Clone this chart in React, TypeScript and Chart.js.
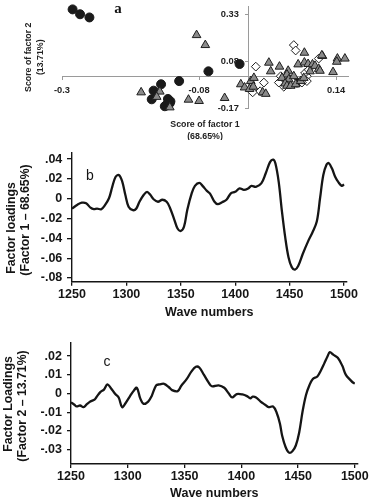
import React, { useEffect, useRef } from "react";
import { Chart, registerables } from "chart.js";

Chart.register(...registerables);

const SANS = "'Liberation Sans', Arial, Helvetica, sans-serif";
const SERIF = "'Liberation Serif', 'Times New Roman', serif";
const INK = "#151515";

// ---------- Panel a: factor scores ----------
const CIRCLE_X = [-0.283, -0.271, -0.256, -0.015, -0.065, -0.112, -0.141, -0.153, -0.156, -0.130, -0.126, -0.133, -0.135, -0.127, 0.077];
const CIRCLE_Y = [0.356, 0.330, 0.313, 0.065, 0.026, -0.026, -0.043, -0.077, -0.123, -0.121, -0.134, -0.155, -0.160, -0.144, -0.034];

const TRI_X = [
  -0.084, -0.070, -0.173, -0.143, -0.148, -0.127, -0.097, -0.080, -0.039,
  0.089, 0.118, 0.142, 0.154, 0.141, 0.032, 0.049, 0.079, 0.089, 0.095, 0.102, 0.106, 0.112, 0.114,
  0.135, 0.035, 0.063, 0.061, 0.053, 0.064, 0.072, 0.058, 0.061, 0.067, 0.075, 0.083, 0.088,
  0.003, 0.008, -0.013, -0.007, 0.001, 0.007, 0.022, 0.027, 0.098, 0.117,
];
const TRI_Y = [
  0.219, 0.166, -0.086, -0.082, -0.110, -0.166, -0.125, -0.132, -0.116,
  0.125, 0.108, 0.094, 0.094, 0.077, 0.072, 0.051, 0.063, 0.073, 0.065, 0.063, 0.055, 0.039, 0.029,
  0.022, 0.026, 0.029, 0.009, -0.009, -0.017, 0.000, -0.039, -0.051, -0.051, -0.043, -0.026, -0.009,
  -0.026, -0.009, -0.043, -0.060, -0.068, -0.056, -0.086, -0.094, 0.026, 0.111,
];

const DIA_X = [0.072, 0.075, 0.011, 0.024, 0.018, 0.006, 0.051, 0.048, 0.061, 0.069, 0.093, 0.093, 0.090, 0.112, 0.096, 0.056, 0.085];
const DIA_Y = [0.166, 0.137, 0.051, -0.034, -0.080, -0.086, 0.000, -0.034, -0.026, -0.026, 0.000, -0.026, 0.017, 0.094, 0.034, -0.056, -0.034];

const A_X_TICKS = [-0.3, -0.08, 0.14];
const A_X_LABELS = ["-0.3", "-0.08", "0.14"];
const A_Y_TICKS = [0.33, 0.08, -0.17];
const A_Y_LABELS = ["0.33", "0.08", "-0.17"];

// ---------- Panel b: factor 1 loadings ----------
const B_WAVE = [
  1250, 1255, 1259, 1263, 1267, 1270, 1273, 1277, 1280, 1284, 1287, 1290, 1293, 1296, 1299, 1302, 1306, 1309,
  1312, 1316, 1319, 1322, 1325, 1329, 1333, 1337, 1340, 1344, 1347, 1350, 1353, 1356, 1360, 1363, 1367, 1370,
  1374, 1377, 1381, 1384, 1388, 1392, 1396, 1400, 1404, 1408, 1412, 1415, 1419, 1424, 1428, 1432, 1435, 1437,
  1440, 1443, 1446, 1449, 1452, 1455, 1458, 1462, 1467, 1471, 1475, 1478, 1481, 1484, 1486, 1489, 1492, 1495,
  1498, 1500,
];
const B_LOAD = [
  -0.010, -0.006, -0.004, -0.0045, -0.009, -0.0105, -0.010, -0.0105, -0.007, 0.0005, 0.012, 0.022, 0.024, 0.018,
  0.004, -0.008, -0.0115, -0.010, -0.003, 0.004, 0.007, 0.004, -0.0005, -0.003, -0.001, -0.003, -0.009, -0.021,
  -0.030, -0.0325, -0.028, -0.011, 0.0055, 0.013, 0.016, 0.013, 0.008, 0.005, -0.003, -0.0055, -0.0035, -0.001,
  0.0055, 0.007, 0.0105, 0.009, 0.0105, 0.013, 0.012, 0.0155, 0.0255, 0.037, 0.0395, 0.0355, 0.017, -0.013,
  -0.039, -0.059, -0.069, -0.0715, -0.0675, -0.056, -0.043, -0.034, -0.023, 0.0005, 0.024, 0.0345, 0.036, 0.0305,
  0.022, 0.0165, 0.013, 0.0145,
];
const B_X_TICKS = [1250, 1300, 1350, 1400, 1450, 1500];
const B_Y_TICKS = [0.04, 0.02, 0, -0.02, -0.04, -0.06, -0.08];
const B_Y_LABELS = [".04", ".02", "0", "-.02", "-.04", "-.06", "-.08"];

// ---------- Panel c: factor 2 loadings ----------
const C_WAVE = [
  1250, 1253, 1255, 1258, 1261, 1264, 1267, 1271, 1273, 1276, 1279, 1282, 1285, 1289, 1292, 1295, 1298, 1302,
  1305, 1308, 1311, 1314, 1318, 1321, 1325, 1328, 1332, 1336, 1339, 1344, 1347, 1352, 1356, 1360, 1363, 1367,
  1371, 1374, 1380, 1385, 1389, 1392, 1396, 1401, 1405, 1408, 1410, 1413, 1417, 1421, 1424, 1428, 1431, 1434,
  1436, 1439, 1442, 1445, 1448, 1451, 1454, 1457, 1460, 1463, 1467, 1470, 1473, 1476, 1478, 1481, 1485, 1489,
  1492, 1496, 1499, 1500,
];
const C_LOAD = [
  -0.0047, -0.006, -0.0069, -0.0064, -0.0073, -0.0057, -0.0043, -0.0031, -0.0014, 0.0009, 0.0021, 0.0049, 0.003,
  -0.0003, -0.0021, -0.0073, -0.0052, -0.0014, 0.0013, 0.0031, -0.0026, -0.0055, -0.0043, -0.0014, 0.0044, 0.0049,
  0.0052, 0.0035, 0.0018, 0.0013, 0.004, 0.0078, 0.0117, 0.0143, 0.0139, 0.0101, 0.0061, 0.0039, 0.0044, 0.0031,
  0.0, -0.0021, -0.0003, -0.0005, -0.0014, -0.0026, -0.0017, -0.0021, -0.0043, -0.006, -0.0073, -0.0069, -0.010,
  -0.016, -0.0226, -0.0286, -0.0316, -0.0309, -0.0278, -0.0208, -0.0095, -0.0008, 0.0044, 0.0078, 0.0091, 0.0122,
  0.016, 0.020, 0.0221, 0.0208, 0.0191, 0.0148, 0.0101, 0.0073, 0.0056, 0.0056,
];
const C_X_TICKS = [1250, 1300, 1350, 1400, 1450, 1500];
const C_Y_TICKS = [0.02, 0.01, 0, -0.01, -0.02, -0.03];
const C_Y_LABELS = [".02", ".01", "0", "-.01", "-.02", "-.03"];

const pts = (xs: number[], ys: number[]) => xs.map((x, i) => ({ x, y: ys[i] }));

function configA(): any {
  const axisGray = "#9a9a9a";
  const textPlugin = {
    id: "panelAText",
    beforeDatasetsDraw(chart: any) {
      const { ctx, chartArea, scales } = chart;
      const xs = scales.x;
      const ys = scales.y;
      const x0 = xs.getPixelForValue(0);
      const y0 = ys.getPixelForValue(0);
      ctx.save();
      ctx.fillStyle = "#222";
      ctx.font = `bold 9.3px ${SANS}`;
      ctx.textBaseline = "middle";
      ctx.textAlign = "center";
      A_X_TICKS.forEach((v, i) => ctx.fillText(A_X_LABELS[i], xs.getPixelForValue(v), y0 + 14));
      ctx.textAlign = "right";
      A_Y_TICKS.forEach((v, i) => ctx.fillText(A_Y_LABELS[i], x0 - 10, ys.getPixelForValue(v)));
      const cx = (chartArea.left + chartArea.right) / 2;
      const cy = (chartArea.top + chartArea.bottom) / 2;
      ctx.font = `bold 8.8px ${SANS}`;
      ctx.textAlign = "center";
      ctx.fillText("Score of factor 1", cx, 125);
      ctx.fillText("(68.65%)", cx, 137);
      ctx.save();
      ctx.translate(29, cy);
      ctx.rotate(-Math.PI / 2);
      ctx.fillText("Score of factor 2", 0, 0);
      ctx.fillText("(13.71%)", 0, 12);
      ctx.restore();
      ctx.font = `bold 15px ${SERIF}`;
      ctx.fillStyle = "#111";
      ctx.fillText("a", 118, 9);
      ctx.restore();
    },
  };
  return {
    type: "scatter",
    data: {
      datasets: [
        {
          data: pts(TRI_X, TRI_Y),
          pointStyle: "triangle",
          pointRadius: 5,
          backgroundColor: "#8a8a8a",
          borderColor: "#1e1e1e",
          borderWidth: 1,
          clip: false,
        },
        {
          data: pts(DIA_X, DIA_Y),
          pointStyle: "rectRot",
          pointRadius: 4.4,
          backgroundColor: "#ffffff",
          borderColor: "#1e1e1e",
          borderWidth: 1,
          clip: false,
        },
        {
          data: pts(CIRCLE_X, CIRCLE_Y),
          pointStyle: "circle",
          pointRadius: 4.5,
          backgroundColor: "#1a1a1a",
          borderColor: "#1a1a1a",
          borderWidth: 1,
          clip: false,
        },
      ],
    },
    options: {
      animation: false,
      responsive: false,
      events: [],
      layout: { padding: { left: 62, right: 22, top: 2, bottom: 31.5 } },
      plugins: { legend: { display: false }, tooltip: { enabled: false } },
      scales: {
        x: {
          type: "linear",
          min: -0.3,
          max: 0.159,
          position: { y: 0 },
          afterBuildTicks: (s: any) => {
            s.ticks = A_X_TICKS.map((value) => ({ value }));
          },
          afterFit: (s: any) => {
            s.height = 0;
          },
          ticks: { display: false },
          grid: { drawOnChartArea: false, drawTicks: true, tickLength: 3, color: axisGray, lineWidth: 1 },
          border: { color: axisGray, width: 1 },
        },
        y: {
          type: "linear",
          min: -0.172,
          max: 0.374,
          position: { x: 0 },
          afterBuildTicks: (s: any) => {
            s.ticks = A_Y_TICKS.map((value) => ({ value }));
          },
          afterFit: (s: any) => {
            s.width = 0;
          },
          ticks: { display: false },
          grid: { drawOnChartArea: false, drawTicks: true, tickLength: 3, color: axisGray, lineWidth: 1 },
          border: { color: axisGray, width: 1 },
        },
      },
    },
    plugins: [textPlugin],
  };
}

function lineConfig(p: {
  wave: number[];
  load: number[];
  xTicks: number[];
  yTicks: number[];
  yLabels: string[];
  yMin: number;
  yMax: number;
  padding: any;
  yWidth: number;
  xHeight: number;
  yTickLen: number;
  yTickPad: number;
  xTickPad: number;
  yTitle: string[];
  yTitlePos: number[][];
  xTitlePad: number;
  xTitleLH: number;
  letter: string;
  letterX: number;
  letterY: number;
}): any {
  const textPlugin = {
    id: "panelText",
    afterDraw(chart: any) {
      const { ctx } = chart;
      ctx.save();
      ctx.fillStyle = INK;
      ctx.textAlign = "center";
      ctx.textBaseline = "middle";
      ctx.font = `14px ${SANS}`;
      ctx.fillText(p.letter, p.letterX, p.letterY);
      ctx.font = `bold 12.3px ${SANS}`;
      p.yTitle.forEach((line, i) => {
        ctx.save();
        ctx.translate(p.yTitlePos[i][0], p.yTitlePos[i][1]);
        ctx.rotate(-Math.PI / 2);
        ctx.fillText(line, 0, 0);
        ctx.restore();
      });
      ctx.restore();
    },
  };
  const tickFont = { family: SANS, size: 12.5, weight: "bold" as const };
  return {
    type: "line",
    data: {
      datasets: [
        {
          data: pts(p.wave, p.load),
          borderColor: INK,
          borderWidth: 2.3,
          pointRadius: 0,
          tension: 0.35,
          fill: false,
        },
      ],
    },
    options: {
      animation: false,
      responsive: false,
      events: [],
      layout: { padding: p.padding },
      plugins: { legend: { display: false }, tooltip: { enabled: false } },
      scales: {
        x: {
          type: "linear",
          min: 1250,
          max: 1502.5,
          position: "bottom",
          afterBuildTicks: (s: any) => {
            s.ticks = p.xTicks.map((value) => ({ value }));
          },
          afterFit: (s: any) => {
            s.height = p.xHeight;
          },
          ticks: {
            color: INK,
            font: tickFont,
            padding: p.xTickPad,
            maxRotation: 0,
            autoSkip: false,
            callback: (v: any) => String(v),
          },
          grid: { drawOnChartArea: false, drawTicks: true, tickLength: 4, color: INK, lineWidth: 1.3 },
          border: { color: INK, width: 1.4 },
          title: {
            display: true,
            text: "Wave numbers",
            color: INK,
            font: { family: SANS, size: 12.5, weight: "bold", lineHeight: p.xTitleLH },
            padding: { top: 0, bottom: p.xTitlePad },
          },
        },
        y: {
          type: "linear",
          min: p.yMin,
          max: p.yMax,
          position: "left",
          afterBuildTicks: (s: any) => {
            s.ticks = p.yTicks.map((value) => ({ value }));
          },
          afterFit: (s: any) => {
            s.width = p.yWidth;
          },
          ticks: {
            color: INK,
            font: tickFont,
            padding: p.yTickPad,
            autoSkip: false,
            callback: (_v: any, i: number) => p.yLabels[i],
          },
          grid: { drawOnChartArea: false, drawTicks: true, tickLength: p.yTickLen, color: INK, lineWidth: 1.3 },
          border: { color: INK, width: 1.4 },
          title: { display: false },
        },
      },
    },
    plugins: [textPlugin],
  };
}

export default function App() {
  const aRef = useRef<HTMLCanvasElement>(null);
  const bRef = useRef<HTMLCanvasElement>(null);
  const cRef = useRef<HTMLCanvasElement>(null);

  useEffect(() => {
    const charts: Chart[] = [];
    charts.push(new Chart(aRef.current as HTMLCanvasElement, configA()));
    charts.push(
      new Chart(
        bRef.current as HTMLCanvasElement,
        lineConfig({
          wave: B_WAVE,
          load: B_LOAD,
          xTicks: B_X_TICKS,
          yTicks: B_Y_TICKS,
          yLabels: B_Y_LABELS,
          yMin: -0.0837,
          yMax: 0.047,
          padding: { left: 0, right: 23.3, top: 11, bottom: 0 },
          yWidth: 72,
          xHeight: 43.3,
          yTickLen: 5,
          yTickPad: 4.7,
          xTickPad: 1.8,
          yTitle: ["Factor loadings", "(Factor 1 \u2013 68.65%)"],
          yTitlePos: [
            [11.5, 88],
            [26, 80],
          ],
          xTitlePad: 5.2,
          xTitleLH: 1.2,
          letter: "b",
          letterX: 90,
          letterY: 36,
        })
      )
    );
    charts.push(
      new Chart(
        cRef.current as HTMLCanvasElement,
        lineConfig({
          wave: C_WAVE,
          load: C_LOAD,
          xTicks: C_X_TICKS,
          yTicks: C_Y_TICKS,
          yLabels: C_Y_LABELS,
          yMin: -0.0377,
          yMax: 0.0273,
          padding: { left: 0, right: 7, top: 9.3, bottom: 0 },
          yWidth: 71,
          xHeight: 36,
          yTickLen: 4,
          yTickPad: 5,
          xTickPad: 1.2,
          yTitle: ["Factor Loadings", "(Factor 2 \u2013 13.71%)"],
          yTitlePos: [
            [8.5, 74],
            [23, 76],
          ],
          xTitlePad: 0,
          xTitleLH: 1.0,
          letter: "c",
          letterX: 107,
          letterY: 32,
        })
      )
    );
    return () => charts.forEach((c) => c.destroy());
  }, []);

  return (
    <div
      style={{
        position: "absolute",
        left: 0,
        top: 0,
        width: 370,
        height: 500,
        overflow: "hidden",
        background: "#ffffff",
      }}
    >
      <canvas ref={aRef} width={370} height={140} style={{ position: "absolute", left: 0, top: 0, width: 370, height: 140 }} />
      <canvas ref={bRef} width={370} height={185} style={{ position: "absolute", left: 0, top: 140, width: 370, height: 185 }} />
      <canvas ref={cRef} width={370} height={170} style={{ position: "absolute", left: 0, top: 330, width: 370, height: 170 }} />
    </div>
  );
}
